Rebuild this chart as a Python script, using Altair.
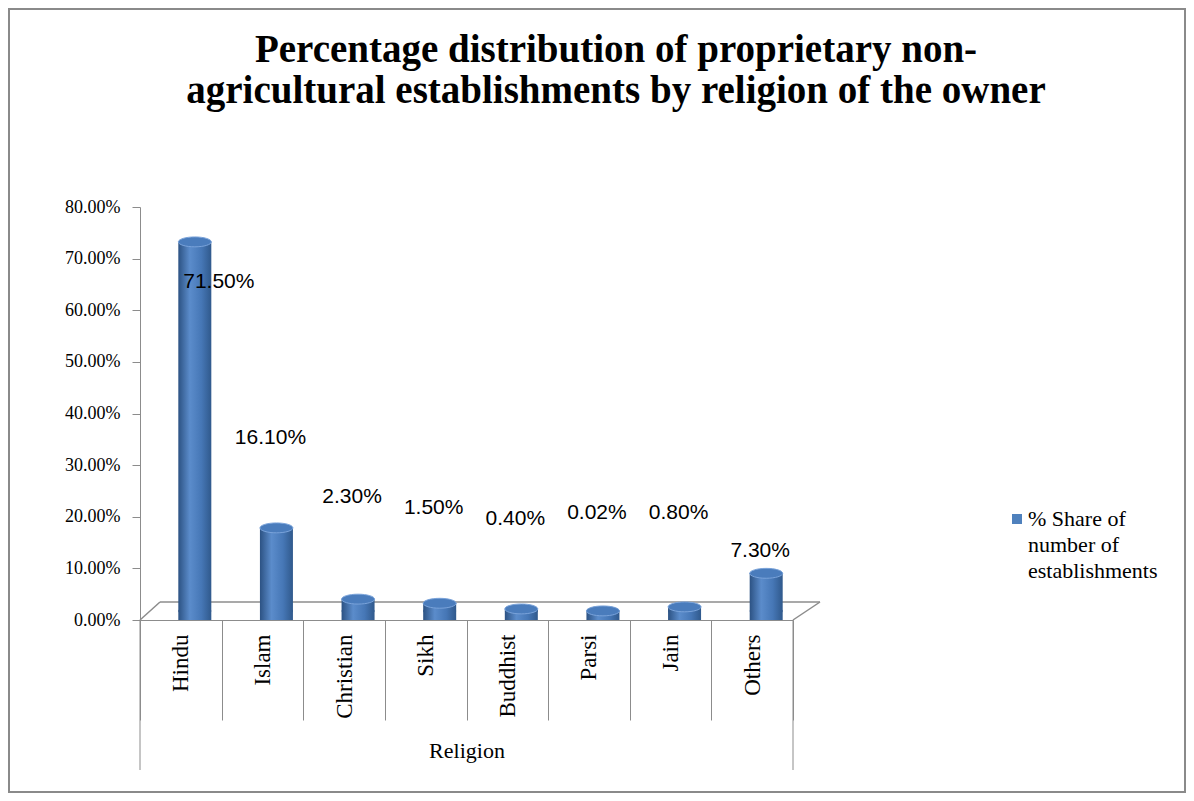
import altair as alt
import pandas as pd

religions = ["Hindu", "Islam", "Christian", "Sikh", "Buddhist", "Parsi", "Jain", "Others"]
shares = [0.715, 0.161, 0.023, 0.015, 0.004, 0.0002, 0.008, 0.073]
label_at = [0.655, 0.353, 0.238, 0.217, 0.196, 0.207, 0.207, 0.134]
series_name = ["% Share of", "number of", "establishments"]
title_lines = ["Percentage distribution of proprietary non-",
               "agricultural establishments by religion of the owner"]
y_ticks = [0, 0.1, 0.2, 0.3, 0.4, 0.5, 0.6, 0.7, 0.8]

df = pd.DataFrame({"religion": religions, "share": shares, "label_at": label_at})
one = pd.DataFrame({"k": [0]})

W, H = 653, 413
SERIF = "Liberation Serif"
SANS = "Liberation Sans"
GRID = "#8c8c8c"

ellipse = "M-1,0A1,0.3,0,1,1,1,0A1,0.3,0,1,1,-1,0Z"
grad = alt.Gradient(
    gradient="linear", x1=0, x2=1, y1=0, y2=0,
    stops=[alt.GradientStop(color="#2c5283", offset=0),
           alt.GradientStop(color="#5b8ccb", offset=0.35),
           alt.GradientStop(color="#4677b6", offset=0.7),
           alt.GradientStop(color="#30598c", offset=1)])

xenc = alt.X("religion:N", sort=religions,
             scale=alt.Scale(paddingInner=0, paddingOuter=0),
             axis=alt.Axis(labelAngle=-90, labelFont=SERIF, labelFontSize=23,
                           labelColor="black", labelPadding=-86,
                           tickBand="extent", tickSize=100, tickColor=GRID,
                           domainColor=GRID, title="Religion", titleFont=SERIF,
                           titleFontWeight="normal", titleFontSize=22,
                           titleColor="black", titleY=137,
                           titleBaseline="alphabetic"))
xs = alt.X("religion:N", sort=religions)
yenc = alt.Y("share:Q", scale=alt.Scale(domain=[0, 0.8], nice=False),
             axis=alt.Axis(format=".2%", values=y_ticks, grid=False, title=None,
                           labelFont=SERIF, labelFontSize=18, labelColor="black",
                           labelPadding=12, tickSize=8, tickColor=GRID,
                           domainColor=GRID))

base = alt.Chart(df)

bars = base.mark_bar(width=33, xOffset=14, yOffset=-9, fill=grad).encode(
    x=xenc, y=yenc, y2=alt.datum(0))
bottoms = base.mark_point(shape=ellipse, size=1089, filled=True, fill=grad,
                          opacity=1, xOffset=14, yOffset=-9).encode(
    x=xs, y=alt.datum(0))
tops = base.mark_point(shape=ellipse, size=1089, filled=True, fill="#4a7cbc",
                       stroke="#7aa3da", strokeWidth=1, opacity=1,
                       xOffset=14, yOffset=-9).encode(x=xs, y="share:Q")

lab_main = base.transform_filter(alt.datum.religion != "Hindu").mark_text(
    font=SANS, fontSize=21, color="black", dx=8).encode(
    x=xs, y="label_at:Q", text=alt.Text("share:Q", format=".2%"))
lab_hindu = base.transform_filter(alt.datum.religion == "Hindu").mark_text(
    font=SANS, fontSize=21, color="black", dx=38).encode(
    x=xs, y="label_at:Q", text=alt.Text("share:Q", format=".2%"))

ob = alt.Chart(one)
floor = [
    ob.mark_rule(color=GRID, strokeWidth=1.5).encode(
        x=alt.value(0), x2=alt.value(20), y=alt.value(H), y2=alt.value(H - 18)),
    ob.mark_rule(color=GRID, strokeWidth=1.5).encode(
        x=alt.value(20), x2=alt.value(W + 27), y=alt.value(H - 18), y2=alt.value(H - 18)),
    ob.mark_rule(color=GRID, strokeWidth=1.5).encode(
        x=alt.value(W), x2=alt.value(W + 27), y=alt.value(H), y2=alt.value(H - 18)),
    ob.mark_rule(color=GRID).encode(
        x=alt.value(0), y=alt.value(H), y2=alt.value(H + 150)),
    ob.mark_rule(color=GRID).encode(
        x=alt.value(W), y=alt.value(H), y2=alt.value(H + 150)),
]

frame = ob.mark_rect(fillOpacity=0, stroke="#8a8a8a", strokeWidth=2).encode(
    x=alt.value(-131), x2=alt.value(1045), y=alt.value(-198), y2=alt.value(585))

title = ob.mark_text(font=SERIF, fontSize=39, fontWeight="bold", color="black",
                     align="center", baseline="top", lineHeight=41).encode(
    x=alt.value(476), y=alt.value(-176), text=alt.value(title_lines))

leg_sym = ob.mark_point(shape="square", size=100, filled=True, fill="#4f81bd",
                        opacity=1).encode(x=alt.value(877), y=alt.value(312))
leg_txt = ob.mark_text(font=SERIF, fontSize=22, color="black", align="left",
                       baseline="middle", lineHeight=26).encode(
    x=alt.value(888), y=alt.value(312), text=alt.value(series_name))

chart = alt.layer(frame, *floor, bars, bottoms, tops, lab_main, lab_hindu,
                  title, leg_sym, leg_txt).properties(
    width=W, height=H, background="white",
    autosize=alt.AutoSizeParams(type="none"),
    padding={"left": 132, "top": 199, "right": 393, "bottom": 173},
).configure_view(stroke=None, strokeWidth=0)

chart.save("out.html", embed_options={"renderer": "svg", "actions": False})
